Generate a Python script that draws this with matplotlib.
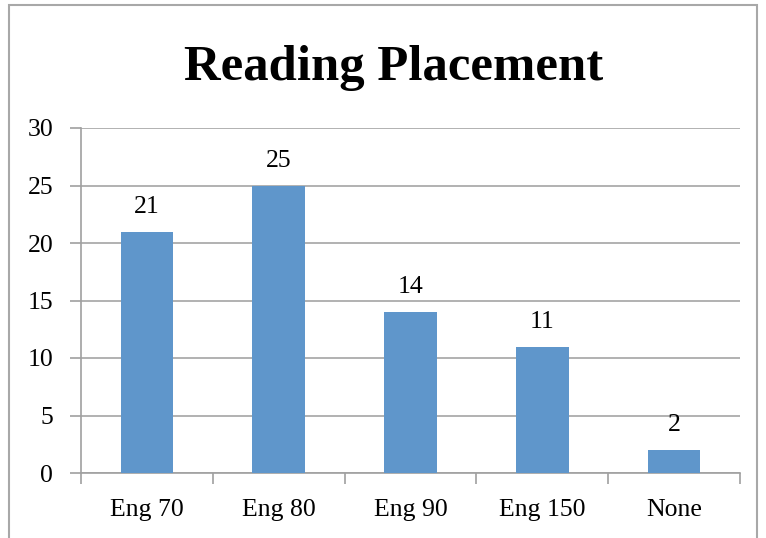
import matplotlib
matplotlib.use("Agg")
import matplotlib.pyplot as plt
from matplotlib.patches import Rectangle

categories = ["Eng 70", "Eng 80", "Eng 90", "Eng 150", "None"]
values = [21, 25, 14, 11, 2]
yticks = [0, 5, 10, 15, 20, 25, 30]
title = "Reading Placement"

W, H = 766, 538
fig = plt.figure(figsize=(W / 100, H / 100), dpi=100)
fig.patch.set_facecolor("white")

# outer chart border
fig.add_artist(Rectangle((8.5 / W, -0.05), (757 - 8.5) / W, 1.05 - 5.5 / H,
                         transform=fig.transFigure, fill=False,
                         edgecolor="#A8A8A8", linewidth=1.5))

left, right, bottom, top = 81, 740, 473, 128
ax = fig.add_axes([left / W, 1 - bottom / H, (right - left) / W, (bottom - top) / H])
serif = ["Liberation Serif", "DejaVu Serif"]
fs = 18.5

x = list(range(len(categories)))
ax.bar(x, values, width=0.4, color="#5F96CB", zorder=3)
ax.set_xlim(-0.5, len(categories) - 0.5)
ax.set_ylim(0, 30)
ax.set_yticks(yticks)
ax.set_yticklabels([str(t) for t in yticks], family=serif, fontsize=fs)
ax.set_xticks(x)
ax.set_xticklabels(categories, family=serif, fontsize=fs)
ax.tick_params(axis="x", length=0, pad=18.5)
ax.tick_params(axis="y", length=8, width=1.2, color="#A0A0A0", pad=12)
# category boundary ticks
ax.set_xticks([i - 0.5 for i in range(len(categories) + 1)], minor=True)
ax.tick_params(axis="x", which="minor", length=8, width=1.2, color="#A0A0A0")

ax.grid(axis="y", color="#A4A4A4", linewidth=1.2, zorder=0)
for s in ["top", "right"]:
    ax.spines[s].set_visible(False)
for s in ["left", "bottom"]:
    ax.spines[s].set_color("#A0A0A0")
    ax.spines[s].set_linewidth(1.2)

for xi, v in zip(x, values):
    ax.annotate(str(v), (xi, v), xytext=(0, 13.5), textcoords="offset points",
                ha="center", va="baseline", family=serif, fontsize=fs)

fig.text(394 / W, 1 - 80 / H, title, ha="center", va="baseline",
         family=serif, fontweight="bold", fontsize=36.5)

fig.savefig("out.png", dpi=100)
